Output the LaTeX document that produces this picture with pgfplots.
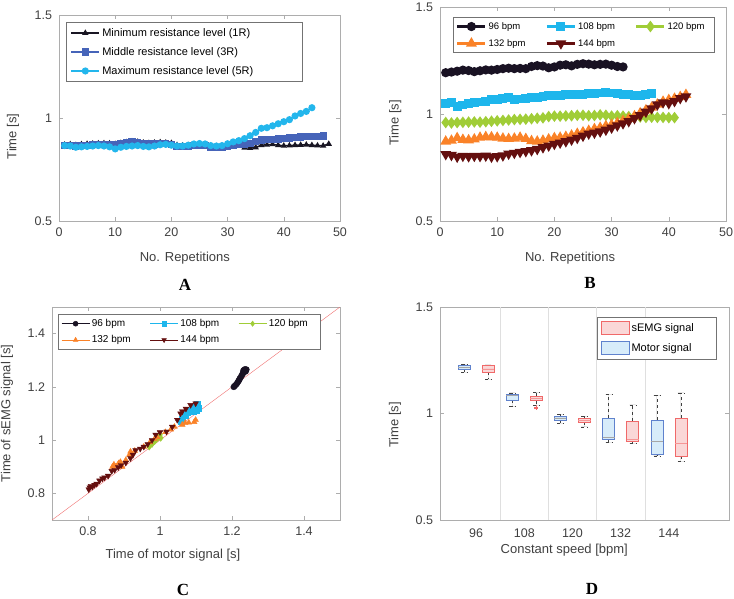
\documentclass[border=0pt]{standalone}
\usepackage{pgfplots}
\pgfplotsset{compat=1.18}
\usepgfplotslibrary{statistics}
\usepackage{fontspec}
\setmainfont{Liberation Sans}
\newfontfamily\labfont{Liberation Serif}
\definecolor{tickgray}{gray}{0.25}
\definecolor{boxgray}{gray}{0.68}
\definecolor{leggray}{gray}{0.45}
\definecolor{cA1}{RGB}{25,22,35}
\definecolor{cA3}{RGB}{70,100,185}
\definecolor{cA5}{RGB}{35,182,236}
\definecolor{c96}{RGB}{25,18,35}
\definecolor{c108}{RGB}{30,182,236}
\definecolor{c120}{RGB}{160,205,55}
\definecolor{c132}{RGB}{250,130,40}
\definecolor{c144}{RGB}{100,15,15}
\definecolor{mblue}{RGB}{95,130,205}
\definecolor{mbluefill}{RGB}{215,236,250}
\definecolor{sred}{RGB}{240,105,105}
\definecolor{sredfill}{RGB}{250,215,215}
\definecolor{diag}{RGB}{240,110,110}
\pgfplotsset{
  myaxis/.style={
    scale only axis,
    axis line style={boxgray},
    tick style={boxgray, thin},
    tick align=inside,
    major tick length=4pt,
    tick label style={font=\fontsize{12.5}{14}\selectfont, text=tickgray},
    xticklabel style={yshift=-3.5pt},
    yticklabel style={xshift=-3.5pt},
    label style={font=\fontsize{13}{15}\selectfont, text=tickgray},
    /pgf/number format/assume math mode=true,
    legend cell align=left,
    legend style={draw=leggray, fill=white, line width=0.6pt, inner sep=2pt},
  },
  lineleg/.style={legend image code/.code={\draw[mark repeat=2,mark phase=2,##1] plot coordinates {(0pt,0pt)(14pt,0pt)(28pt,0pt)};}},
}
\begin{document}
\begin{tikzpicture}
\useasboundingbox (0,0) rectangle (734pt,598pt);
% ---------------- Panel A ----------------
\begin{axis}[myaxis, at={(59pt,377pt)}, anchor=south west, width=281pt, height=206pt,
  xmin=0, xmax=50, ymin=0.5, ymax=1.5, xtick={0,10,20,30,40,50}, ytick={0.5,1,1.5},
  xlabel={No. Repetitions}, ylabel={Time [s]},
  xlabel style={at={(axis description cs:0.448,-0.18)}, anchor=center},
  ylabel style={at={(axis description cs:-0.164,0.41)}, anchor=center},
  lineleg,
  legend style={at={(0.025,0.966)}, anchor=north west, font=\fontsize{11}{13}\selectfont, row sep=5.5pt, inner xsep=4pt, inner ysep=4pt}]
\addplot[cA1, line width=1.5pt, mark=triangle*, mark size=2.2pt] coordinates {(1,0.870)(2,0.872)(3,0.868)(4,0.872)(5,0.874)(6,0.875)(7,0.876)(8,0.877)(9,0.876)(10,0.873)(11,0.878)(12,0.882)(13,0.886)(14,0.884)(15,0.880)(16,0.878)(17,0.880)(18,0.882)(19,0.880)(20,0.878)(21,0.868)(22,0.866)(23,0.867)(24,0.870)(25,0.872)(26,0.870)(27,0.862)(28,0.862)(29,0.864)(30,0.866)(31,0.868)(32,0.866)(33,0.855)(34,0.854)(35,0.857)(36,0.868)(37,0.870)(38,0.872)(39,0.868)(40,0.865)(41,0.866)(42,0.868)(43,0.869)(44,0.870)(45,0.868)(46,0.866)(47,0.865)(48,0.874)};
\addlegendentry{\makebox[194pt][l]{Minimum resistance level (1R)}}
\addplot[cA3, line width=2pt, mark=square*, mark size=2.6pt] coordinates {(1,0.868)(2,0.866)(3,0.864)(4,0.866)(5,0.868)(6,0.870)(7,0.872)(8,0.873)(9,0.872)(10,0.870)(11,0.874)(12,0.880)(13,0.884)(14,0.882)(15,0.878)(16,0.874)(17,0.874)(18,0.878)(19,0.876)(20,0.872)(21,0.862)(22,0.860)(23,0.862)(24,0.866)(25,0.868)(26,0.866)(27,0.858)(28,0.856)(29,0.858)(30,0.862)(31,0.866)(32,0.870)(33,0.874)(34,0.878)(35,0.884)(36,0.893)(37,0.895)(38,0.897)(39,0.898)(40,0.899)(41,0.903)(42,0.906)(43,0.908)(44,0.910)(45,0.910)(46,0.911)(47,0.913)};
\addlegendentry{Middle resistance level (3R)}
\addplot[cA5, line width=1.5pt, mark=*, mark size=2.8pt] coordinates {(1,0.866)(2,0.864)(3,0.858)(4,0.860)(5,0.862)(6,0.864)(7,0.866)(8,0.864)(9,0.860)(10,0.850)(11,0.858)(12,0.862)(13,0.864)(14,0.866)(15,0.862)(16,0.860)(17,0.864)(18,0.870)(19,0.872)(20,0.868)(21,0.864)(22,0.864)(23,0.868)(24,0.874)(25,0.876)(26,0.874)(27,0.866)(28,0.864)(29,0.866)(30,0.875)(31,0.884)(32,0.890)(33,0.900)(34,0.914)(35,0.930)(36,0.950)(37,0.953)(38,0.962)(39,0.972)(40,0.982)(41,0.992)(42,1.010)(43,1.022)(44,1.032)(45,1.050)};
\addlegendentry{Maximum resistance level (5R)}
\end{axis}
% ---------------- Panel B ----------------
\begin{axis}[myaxis, at={(440pt,377pt)}, anchor=south west, width=286pt, height=214pt,
  xmin=0, xmax=50, ymin=0.5, ymax=1.5, xtick={0,10,20,30,40,50}, ytick={0.5,1,1.5},
  xlabel={No. Repetitions}, ylabel={Time [s]},
  xlabel style={at={(axis description cs:0.455,-0.173)}, anchor=center},
  ylabel style={at={(axis description cs:-0.156,0.458)}, anchor=center},
  lineleg, legend columns=3,
  legend style={at={(0.045,0.953)}, anchor=north west, font=\fontsize{9.5}{11}\selectfont, row sep=4.5pt, inner xsep=3pt, inner ysep=3pt}]
\addplot[c96, line width=2.5pt, mark=*, mark size=3.3pt] coordinates {(1,1.193)(2,1.196)(3,1.200)(4,1.205)(5,1.203)(6,1.198)(7,1.202)(8,1.206)(9,1.205)(10,1.208)(11,1.212)(12,1.214)(13,1.212)(14,1.213)(15,1.212)(16,1.222)(17,1.226)(18,1.224)(19,1.216)(20,1.220)(21,1.228)(22,1.230)(23,1.225)(24,1.232)(25,1.235)(26,1.233)(27,1.230)(28,1.232)(29,1.233)(30,1.228)(31,1.222)(32,1.220)};
\addlegendentry{\makebox[55pt][l]{96 bpm}}
\addplot[c108, line width=2.5pt, mark=square*, mark size=3.2pt] coordinates {(1,1.050)(2,1.052)(3,1.036)(4,1.042)(5,1.048)(6,1.052)(7,1.056)(8,1.058)(9,1.066)(10,1.068)(11,1.072)(12,1.075)(13,1.066)(14,1.070)(15,1.074)(16,1.076)(17,1.078)(18,1.082)(19,1.088)(20,1.086)(21,1.088)(22,1.090)(23,1.090)(24,1.092)(25,1.092)(26,1.094)(27,1.096)(28,1.098)(29,1.099)(30,1.098)(31,1.097)(32,1.090)(33,1.090)(34,1.088)(35,1.086)(36,1.090)(37,1.094)};
\addlegendentry{\makebox[55pt][l]{108 bpm}}
\addplot[c120, line width=2.5pt, mark=diamond*, mark size=3.8pt] coordinates {(1,0.960)(2,0.958)(3,0.960)(4,0.961)(5,0.962)(6,0.963)(7,0.962)(8,0.964)(9,0.966)(10,0.968)(11,0.970)(12,0.972)(13,0.974)(14,0.975)(15,0.976)(16,0.978)(17,0.980)(18,0.982)(19,0.988)(20,0.990)(21,0.990)(22,0.991)(23,0.992)(24,0.994)(25,0.994)(26,0.992)(27,0.993)(28,0.996)(29,0.994)(30,0.990)(31,0.992)(32,0.990)(33,0.988)(34,0.986)(35,0.986)(36,0.984)(37,0.985)(38,0.984)(39,0.984)(40,0.983)(41,0.983)};
\addlegendentry{\makebox[42pt][l]{120 bpm}}
\addplot[c132, line width=2.5pt, mark=triangle*, mark size=3.8pt] coordinates {(1,0.872)(2,0.876)(3,0.888)(4,0.880)(5,0.878)(6,0.882)(7,0.890)(8,0.893)(9,0.892)(10,0.890)(11,0.886)(12,0.884)(13,0.886)(14,0.890)(15,0.884)(16,0.874)(17,0.872)(18,0.876)(19,0.882)(20,0.888)(21,0.890)(22,0.894)(23,0.900)(24,0.908)(25,0.915)(26,0.922)(27,0.930)(28,0.936)(29,0.944)(30,0.950)(31,0.958)(32,0.968)(33,0.978)(34,0.990)(35,1.004)(36,1.018)(37,1.030)(38,1.045)(39,1.058)(40,1.066)(41,1.072)(42,1.080)(43,1.090)};
\addlegendentry{\makebox[55pt][l]{132 bpm}}
\addplot[c144, line width=2.5pt, mark=triangle*, mark size=3.8pt, mark options={rotate=180}] coordinates {(1,0.812)(2,0.808)(3,0.800)(4,0.804)(5,0.802)(6,0.804)(7,0.803)(8,0.805)(9,0.800)(10,0.802)(11,0.806)(12,0.814)(13,0.818)(14,0.822)(15,0.826)(16,0.830)(17,0.836)(18,0.844)(19,0.852)(20,0.860)(21,0.866)(22,0.872)(23,0.880)(24,0.888)(25,0.898)(26,0.908)(27,0.912)(28,0.918)(29,0.926)(30,0.936)(31,0.946)(32,0.956)(33,0.966)(34,0.980)(35,0.994)(36,1.010)(37,1.026)(38,1.044)(39,1.054)(40,1.050)(41,1.060)(42,1.074)(43,1.082)};
\addlegendentry{\makebox[55pt][l]{144 bpm}}
\end{axis}
% ---------------- Panel C ----------------
\begin{axis}[myaxis, at={(52pt,78pt)}, anchor=south west, width=288pt, height=213pt,
  xmin=0.7, xmax=1.5, ymin=0.7, ymax=1.5, xtick={0.8,1,1.2,1.4}, ytick={0.8,1,1.2,1.4},
  xlabel={Time of motor signal [s]}, ylabel={Time of sEMG signal [s]},
  xlabel style={at={(axis description cs:0.42,-0.164)}, anchor=center},
  ylabel style={at={(axis description cs:-0.156,0.5)}, anchor=center},
  lineleg, legend columns=3,
  legend style={at={(0.021,0.967)}, anchor=north west, font=\fontsize{10}{12}\selectfont, row sep=3.5pt, inner xsep=3pt, inner ysep=3pt}]
\addplot[diag, thin, forget plot] coordinates {(0.7,0.7)(1.5,1.5)};
\addlegendimage{c96, line width=0.5pt, mark=*, mark size=2.5pt}
\addlegendentry{\makebox[56pt][l]{96 bpm}}
\addlegendimage{c108, line width=0.5pt, mark=square*, mark size=2.3pt}
\addlegendentry{\makebox[56pt][l]{108 bpm}}
\addlegendimage{c120, line width=0.5pt, mark=diamond*, mark size=2.6pt}
\addlegendentry{\makebox[46pt][l]{120 bpm}}
\addlegendimage{c132, line width=0.5pt, mark=triangle*, mark size=2.6pt}
\addlegendentry{\makebox[56pt][l]{132 bpm}}
\addlegendimage{c144, line width=0.5pt, mark=triangle*, mark size=2.6pt, mark options={rotate=180}}
\addlegendentry{\makebox[56pt][l]{144 bpm}}
\addplot[only marks, c96, mark=*, mark size=3pt, forget plot] coordinates {(1.205,1.200)(1.208,1.204)(1.212,1.210)(1.215,1.215)(1.218,1.222)(1.220,1.226)(1.222,1.232)(1.225,1.238)(1.228,1.245)(1.230,1.250)(1.232,1.256)(1.234,1.262)(1.236,1.266)(1.240,1.265)(1.238,1.258)(1.232,1.262)};
\addplot[only marks, c108, mark=square*, mark size=3pt, forget plot] coordinates {(1.058,1.072)(1.062,1.080)(1.070,1.092)(1.076,1.104)(1.082,1.108)(1.088,1.112)(1.095,1.122)(1.099,1.128)(1.102,1.136)(1.105,1.120)(1.100,1.114)(1.092,1.110)};
\addplot[only marks, c120, mark=diamond*, mark size=3.3pt, forget plot] coordinates {(0.970,0.975)(0.978,0.985)(0.985,0.995)(0.990,1.002)(0.995,1.010)(0.998,1.016)(1.000,1.020)(1.002,1.008)};
\addplot[only marks, c132, mark=triangle*, mark size=3.3pt, forget plot] coordinates {(0.868,0.900)(0.872,0.908)(0.878,0.902)(0.885,0.913)(0.890,0.918)(0.895,0.900)(0.905,0.925)(0.915,0.945)(0.918,0.957)(0.930,0.960)(0.955,0.975)(0.972,0.992)(0.985,1.005)(0.992,1.012)(1.015,1.030)(1.030,1.040)(1.040,1.050)(1.062,1.058)(1.070,1.064)(1.080,1.066)(1.099,1.076)(1.095,1.068)};
\addplot[only marks, c144, mark=triangle*, mark size=3.3pt, mark options={rotate=180}, forget plot] coordinates {(0.802,0.815)(0.805,0.822)(0.808,0.828)(0.812,0.825)(0.818,0.832)(0.824,0.836)(0.832,0.848)(0.840,0.856)(0.846,0.860)(0.856,0.866)(0.866,0.884)(0.874,0.888)(0.884,0.898)(0.892,0.906)(0.905,0.915)(0.918,0.932)(0.925,0.945)(0.932,0.962)(0.945,0.968)(0.955,0.975)(0.966,0.985)(0.978,1.000)(0.988,1.020)(1.000,1.030)(1.018,1.032)(1.034,1.050)(1.048,1.076)(1.057,1.100)(1.062,1.108)(1.072,1.118)(1.085,1.132)(1.099,1.138)};
\end{axis}
% ---------------- Panel D ----------------
\begin{axis}[myaxis, at={(440pt,78pt)}, anchor=south west, width=289pt, height=213pt,
  xmin=0, xmax=12, ymin=0.5, ymax=1.5, ytick={0.5,1,1.5},
  xtick={1.5,3.5,5.5,7.5,9.5}, xticklabels={96,108,120,132,144},
  xticklabel style={yshift=-1.5pt},
  x tick style={draw=none},
  extra x ticks={2.5,4.5,6.5,8.5}, extra x tick labels={},
  extra x tick style={grid=major, major grid style={gray!25, thin}},
  xlabel={Constant speed [bpm]}, ylabel={Time [s]},
  xlabel style={at={(axis description cs:0.43,-0.141)}, anchor=center},
  ylabel style={at={(axis description cs:-0.156,0.446)}, anchor=center},
  legend image code/.code={\draw[#1] (0pt,-6.5pt) rectangle (28pt,6.5pt);},
  legend style={at={(0.958,0.953)}, anchor=north east, font=\fontsize{11}{13}\selectfont, row sep=6pt, inner xsep=3pt, inner ysep=4pt},
  boxplot/draw direction=y,
  boxplot/every whisker/.style={black!75, dashed, thin},
  boxplot/box extend=0.5, boxplot/whisker extend=0.25]
\addlegendimage{draw=sred, fill=sredfill, line width=0.8pt}
\addlegendentry{\makebox[80pt][l]{sEMG signal}}
\addlegendimage{draw=mblue, fill=mbluefill, line width=0.8pt}
\addlegendentry{Motor signal}
% motor (blue) boxes
\addplot[forget plot, draw=mblue, fill=mbluefill, thin, boxplot/draw direction=y, boxplot/every median/.style={gray!70, thin}, boxplot prepared={draw position=1, lower whisker=1.194, lower quartile=1.207, median=1.216, upper quartile=1.226, upper whisker=1.232}] coordinates {};
\addplot[forget plot, draw=mblue, fill=mbluefill, thin, boxplot/draw direction=y, boxplot/every median/.style={gray!70, thin}, boxplot prepared={draw position=3, lower whisker=1.034, lower quartile=1.064, median=1.085, upper quartile=1.091, upper whisker=1.097}] coordinates {};
\addplot[forget plot, draw=mblue, fill=mbluefill, thin, boxplot/draw direction=y, boxplot/every median/.style={gray!70, thin}, boxplot prepared={draw position=5, lower whisker=0.955, lower quartile=0.969, median=0.980, upper quartile=0.987, upper whisker=0.997}] coordinates {};
\addplot[forget plot, draw=mblue, fill=mbluefill, thin, boxplot/draw direction=y, boxplot/every median/.style={gray!70, thin}, boxplot prepared={draw position=7, lower whisker=0.864, lower quartile=0.879, median=0.889, upper quartile=0.978, upper whisker=1.091}] coordinates {};
\addplot[forget plot, draw=mblue, fill=mbluefill, thin, boxplot/draw direction=y, boxplot/every median/.style={gray!70, thin}, boxplot prepared={draw position=9, lower whisker=0.801, lower quartile=0.809, median=0.870, upper quartile=0.970, upper whisker=1.085}] coordinates {};
% sEMG (red) boxes
\addplot[forget plot, draw=sred, fill=sredfill, thin, boxplot/draw direction=y, boxplot/every median/.style={sred!70, thin}, boxplot prepared={draw position=2, lower whisker=1.161, lower quartile=1.194, median=1.210, upper quartile=1.226, upper whisker=1.228}] coordinates {};
\addplot[forget plot, draw=sred, fill=sredfill, thin, boxplot/draw direction=y, boxplot/every median/.style={sred!70, thin}, boxplot prepared={draw position=4, lower whisker=1.038, lower quartile=1.061, median=1.072, upper quartile=1.082, upper whisker=1.100}] coordinates {};
\addplot[forget plot, draw=sred, fill=sredfill, thin, boxplot/draw direction=y, boxplot/every median/.style={sred!70, thin}, boxplot prepared={draw position=6, lower whisker=0.937, lower quartile=0.958, median=0.967, upper quartile=0.978, upper whisker=0.987}] coordinates {};
\addplot[forget plot, draw=sred, fill=sredfill, thin, boxplot/draw direction=y, boxplot/every median/.style={sred!70, thin}, boxplot prepared={draw position=8, lower whisker=0.861, lower quartile=0.870, median=0.879, upper quartile=0.966, upper whisker=1.041}] coordinates {};
\addplot[forget plot, draw=sred, fill=sredfill, thin, boxplot/draw direction=y, boxplot/every median/.style={sred!70, thin}, boxplot prepared={draw position=10, lower whisker=0.774, lower quartile=0.799, median=0.861, upper quartile=0.978, upper whisker=1.097}] coordinates {};
\addplot[forget plot, only marks, sred, mark=+, mark size=2pt] coordinates {(4,1.030)(4,1.025)};
\end{axis}
% ---------------- panel letters ----------------
\node[font=\labfont\bfseries\fontsize{17}{20}\selectfont] at (185pt,313pt) {A};
\node[font=\labfont\bfseries\fontsize{17}{20}\selectfont] at (590pt,315pt) {B};
\node[font=\labfont\bfseries\fontsize{17}{20}\selectfont] at (183pt,8pt) {C};
\node[font=\labfont\bfseries\fontsize{17}{20}\selectfont] at (592pt,9pt) {D};
\end{tikzpicture}
\end{document}
